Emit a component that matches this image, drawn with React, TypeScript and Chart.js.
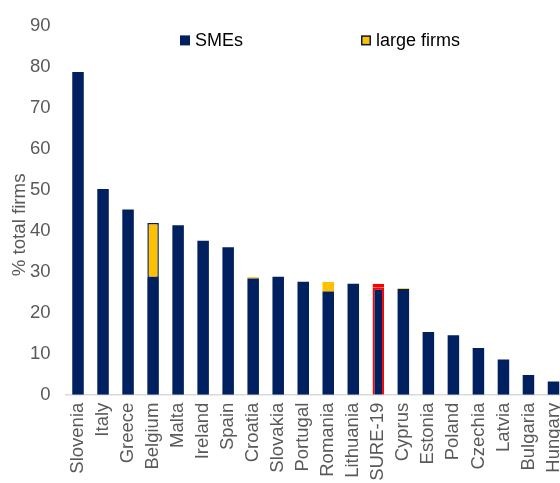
import React, { useEffect, useRef } from 'react';
import { Chart, registerables } from 'chart.js';

Chart.register(...registerables);

const categories = [
  'Slovenia', 'Italy', 'Greece', 'Belgium', 'Malta', 'Ireland', 'Spain', 'Croatia',
  'Slovakia', 'Portugal', 'Romania', 'Lithuania', 'SURE-19', 'Cyprus', 'Estonia',
  'Poland', 'Czechia', 'Latvia', 'Bulgaria', 'Hungary',
];
const smes = [78.8, 50.2, 45.2, 28.5, 41.4, 37.6, 36.0, 28.4, 28.8, 27.6, 25.2, 27.1, 26.1, 25.8, 15.3, 14.5, 11.4, 8.6, 4.8, 3.2];
const largeFirms = [0, 0, 0, 13.4, 0, 0, 0, 0.3, 0, 0, 2.3, 0, 1.0, 0.2, 0, 0, 0, 0, 0, 0];
const seriesLabels = ['SMEs', 'large firms'];
const yTickValues = [0, 10, 20, 30, 40, 50, 60, 70, 80, 90];
const yAxisTitle = '% total firms';
const highlighted = ['SURE-19'];
const outlinedLarge = ['Belgium'];

const NAVY = '#002060';
const YELLOW = '#FFC000';
const RED = '#FF0000';
const GRAY = '#595959';
const FONT = '"Liberation Sans", Arial, sans-serif';

const overlayPlugin = {
  id: 'overlay',
  afterDraw(chart: any) {
    const { ctx, chartArea } = chart;
    ctx.save();
    // legend
    const cy = chartArea.top + 14.3;
    const items = [
      { label: seriesLabels[0], fill: NAVY, stroke: null as string | null, dx: 114.5 },
      { label: seriesLabels[1], fill: YELLOW, stroke: NAVY, dx: 295.5 },
    ];
    ctx.font = `18px ${FONT}`;
    ctx.textBaseline = 'middle';
    ctx.textAlign = 'left';
    for (const it of items) {
      const x = chartArea.left + it.dx;
      ctx.fillStyle = it.fill;
      ctx.fillRect(x, cy - 5, 10, 10);
      if (it.stroke) {
        ctx.strokeStyle = it.stroke;
        ctx.lineWidth = 1.5;
        ctx.strokeRect(x + 0.75, cy - 4.25, 8.5, 8.5);
      }
      ctx.fillStyle = '#000000';
      ctx.fillText(it.label, x + 15, cy + 1);
    }
    // y axis title
    ctx.translate(20, (chartArea.top + chartArea.bottom) / 2 + 14.5);
    ctx.rotate(-Math.PI / 2);
    ctx.textAlign = 'center';
    ctx.fillStyle = GRAY;
    ctx.font = `18.7px ${FONT}`;
    ctx.fillText(yAxisTitle, 0, 0);
    ctx.restore();
  },
};

export default function App() {
  const ref = useRef<HTMLCanvasElement | null>(null);

  useEffect(() => {
    if (!ref.current) return;
    const isHi = (i: number) => highlighted.includes(categories[i]);
    const chart = new Chart(ref.current, {
      type: 'bar',
      data: {
        labels: categories,
        datasets: [
          {
            label: seriesLabels[0],
            data: smes,
            backgroundColor: NAVY,
            borderColor: (c: any) => (isHi(c.dataIndex) ? RED : NAVY),
            borderWidth: (c: any) => (isHi(c.dataIndex) ? 2 : 0),
            barPercentage: 0.46,
            categoryPercentage: 1,
          },
          {
            label: seriesLabels[1],
            data: largeFirms,
            backgroundColor: YELLOW,
            borderColor: (c: any) => (isHi(c.dataIndex) ? RED : NAVY),
            borderWidth: (c: any) =>
              isHi(c.dataIndex) ? 2 : outlinedLarge.includes(categories[c.dataIndex]) ? 1.5 : 0,
            borderSkipped: false,
            barPercentage: 0.46,
            categoryPercentage: 1,
          },
        ],
      },
      options: {
        responsive: false,
        maintainAspectRatio: false,
        animation: false,
        layout: { padding: { top: 21.7, left: 0, right: 0, bottom: 0 } },
        plugins: {
          legend: { display: false },
          tooltip: { enabled: false },
        },
        scales: {
          x: {
            stacked: true,
            grid: { display: false, drawTicks: false },
            border: { display: true, color: '#d9d9d9', width: 1.5 },
            ticks: {
              autoSkip: false,
              maxRotation: 90,
              minRotation: 90,
              padding: 8,
              color: GRAY,
              font: { family: FONT, size: 18.5 },
            },
            afterFit: (scale: any) => {
              scale.height = 125.3;
              scale.paddingLeft = 0;
              scale.paddingRight = 0;
            },
          },
          y: {
            stacked: true,
            min: 0,
            max: 90,
            afterBuildTicks: (scale: any) => {
              scale.ticks = yTickValues.map((v) => ({ value: v }));
            },
            grid: { display: false, drawTicks: false },
            border: { display: false },
            ticks: {
              padding: 15,
              color: GRAY,
              font: { family: FONT, size: 18.5 },
            },
            afterFit: (scale: any) => {
              scale.width = 65.5;
            },
          },
        },
      },
      plugins: [overlayPlugin],
    } as any);
    return () => chart.destroy();
  }, []);

  return (
    <div
      style={{
        position: 'fixed',
        left: 0,
        top: 0,
        width: 560,
        height: 483,
        overflow: 'hidden',
        background: '#ffffff',
      }}
    >
      <canvas ref={ref} width={566} height={520} style={{ display: 'block', width: 566, height: 520 }} />
    </div>
  );
}
